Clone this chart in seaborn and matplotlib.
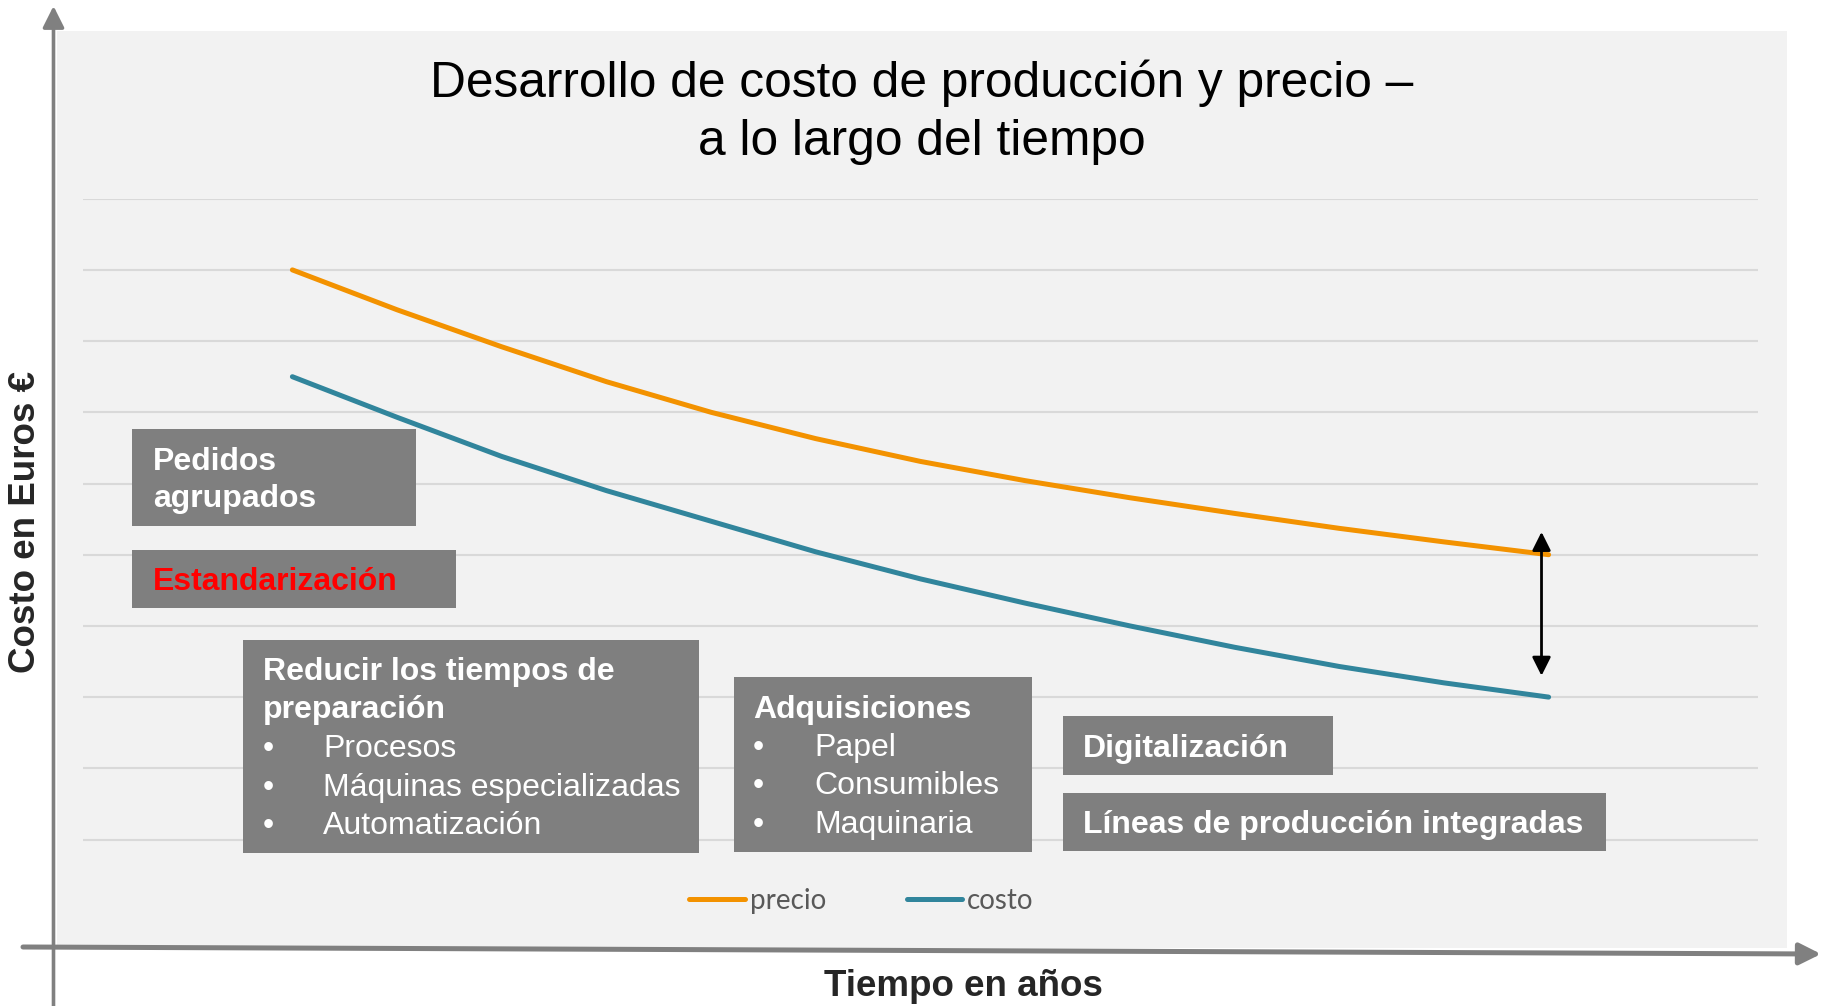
import matplotlib.pyplot as plt
import matplotlib.transforms as mtransforms
from matplotlib.patches import Rectangle, FancyArrowPatch
import pandas as pd
import seaborn as sns

periodo = [1, 1.25, 1.5, 1.75, 2, 2.25, 2.5, 2.75, 3, 3.25, 3.5, 3.75, 4]
precio = [9.0, 8.44, 7.92, 7.43, 7.0, 6.63, 6.31, 6.04, 5.80, 5.58, 5.37, 5.18, 5.0]
costo = [7.5, 6.93, 6.38, 5.90, 5.47, 5.04, 4.66, 4.32, 4.0, 3.70, 3.43, 3.20, 3.0]
series = ['precio', 'costo']
colores = ['#F39200', '#31859C']
niveles = list(range(1, 11))

titulo = ['Desarrollo de costo de producción y precio –', 'a lo largo del tiempo']
etiqueta_y = 'Costo en Euros €'
etiqueta_x = 'Tiempo en años'

textos_pedidos = ['Pedidos', 'agrupados']
texto_estandarizacion = 'Estandarización'
textos_reducir = ['Reducir los tiempos de', 'preparación']
items_reducir = ['Procesos', 'Máquinas especializadas', 'Automatización']
texto_adquisiciones = 'Adquisiciones'
items_adquisiciones = ['Papel', 'Consumibles', 'Maquinaria']
texto_digitalizacion = 'Digitalización'
texto_lineas = 'Líneas de producción integradas'

W, H = 1827, 1006
GRIS_CAJA = '#7F7F7F'
GRIS_EJE = '#808080'
FS_CAJA = 23


def draw_box(fig, px, x0, y0, x1, y1):
    fig.add_artist(Rectangle((x0, y0), x1 - x0, y1 - y0, transform=px,
                             facecolor=GRIS_CAJA, edgecolor='none', zorder=1))


def draw_lines(fig, px, x, baselines, lines, color='white'):
    for y, t in zip(baselines, lines):
        fig.text(x, y, t, transform=px, color=color, fontsize=FS_CAJA,
                 fontweight='bold', va='baseline', ha='left', zorder=3)


def draw_bullets(fig, px, x, x_item, baselines, items):
    for y, t in zip(baselines, items):
        fig.text(x, y, '•', transform=px, color='white', fontsize=FS_CAJA, va='baseline', zorder=3)
        fig.text(x_item, y, t, transform=px, color='white', fontsize=FS_CAJA, va='baseline', zorder=3)


sns.set_theme(style='white')
plt.rcParams['font.family'] = ['Liberation Sans', 'DejaVu Sans']

fig = plt.figure(figsize=(W / 100, H / 100), dpi=100)
px = mtransforms.Affine2D().scale(1 / W, -1 / H).translate(0, 1) + fig.transFigure

# fondo gris claro
fig.add_artist(Rectangle((57, 31), 1787 - 57, 948 - 31, transform=px,
                         facecolor='#F2F2F2', edgecolor='none', zorder=-2))

ax = fig.add_axes([83 / W, 1 - 910.7 / H, (1758 - 83) / W, (910.7 - 198.7) / H])
ax.patch.set_visible(False)

df = pd.DataFrame({
    'periodo': periodo * 2,
    'valor': precio + costo,
    'serie': [series[0]] * len(periodo) + [series[1]] * len(periodo),
})
sns.lineplot(data=df, x='periodo', y='valor', hue='serie', palette=dict(zip(series, colores)),
             linewidth=3.6, solid_capstyle='round', solid_joinstyle='round', legend=False, ax=ax)

ax.set_xlim(0.5, 4.5)
ax.set_ylim(0, 10)
ax.set_yticks(niveles)
ax.set_xticks([])
ax.yaxis.grid(True, color='#D9D9D9', linewidth=1.5)
ax.set_axisbelow(True)
ax.tick_params(left=False, bottom=False, labelleft=False, labelbottom=False)
for s in ax.spines.values():
    s.set_visible(False)
ax.set_xlabel('')
ax.set_ylabel('')

ax.annotate('', xy=(periodo[-1] - 0.017, precio[-1] + 0.32), xytext=(periodo[-1] - 0.017, costo[-1] + 0.3),
            arrowprops=dict(arrowstyle='<|-|>,head_width=0.4,head_length=0.8', color='black',
                            lw=2, shrinkA=0, shrinkB=0, mutation_scale=14))

handles = ax.get_lines()[:2]
leg = fig.legend(handles, series, loc='center', bbox_to_anchor=(861.5 / W, 1 - 900.7 / H), ncol=2,
                 frameon=False, handlelength=2.0, handletextpad=0.18, columnspacing=2.9,
                 prop={'family': 'Lato', 'size': 20}, labelcolor='#595959')
for h in leg.get_lines():
    h.set_solid_capstyle('round')

# ejes con flechas
fig.add_artist(FancyArrowPatch((53.5, 1006), (53.5, 6), transform=px, arrowstyle='-|>,head_width=0.5,head_length=1.0',
                               mutation_scale=13, color=GRIS_EJE, lw=2.6, shrinkA=0, shrinkB=0, zorder=2))
fig.add_artist(FancyArrowPatch((23, 947), (1821, 954), transform=px, arrowstyle='-|>,head_width=0.5,head_length=1.0',
                               mutation_scale=13, color=GRIS_EJE, lw=3.6, shrinkA=0, shrinkB=0, zorder=2))

for y, t in zip([97.3, 155], titulo):
    fig.text(922, y, t, transform=px, fontsize=35.7, color='black', ha='center', va='baseline')
fig.text(26, 522, etiqueta_y, transform=px, fontsize=26.5, fontweight='bold', rotation=90,
         ha='center', va='center')
fig.text(963, 996, etiqueta_x, transform=px, fontsize=26.5, fontweight='bold', ha='center', va='baseline')

draw_box(fig, px, 132, 429, 416, 526)
draw_lines(fig, px, 153, [470, 507], textos_pedidos)

draw_box(fig, px, 132, 550, 456, 608)
draw_lines(fig, px, 153, [590], [texto_estandarizacion], color='#FF0000')

draw_box(fig, px, 243, 640, 699, 853)
draw_lines(fig, px, 263, [680, 718], textos_reducir)
draw_bullets(fig, px, 263, 323, [757, 796, 834], items_reducir)

draw_box(fig, px, 734, 677, 1032, 852)
draw_lines(fig, px, 753, [718], [texto_adquisiciones])
draw_bullets(fig, px, 753, 814, [756, 794, 833], items_adquisiciones)

draw_box(fig, px, 1063, 716, 1333, 775)
draw_lines(fig, px, 1083, [757], [texto_digitalizacion])

draw_box(fig, px, 1063, 793, 1606, 851)
draw_lines(fig, px, 1083, [833], [texto_lineas])

plt.savefig('out.png', dpi=100)
plt.close()
